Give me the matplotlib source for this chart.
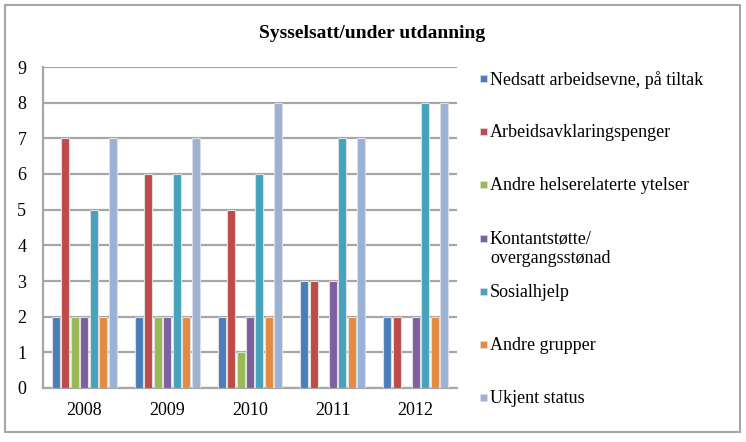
import matplotlib
matplotlib.use("Agg")
import matplotlib.pyplot as plt
import numpy as np
from matplotlib.patches import Rectangle

years = ["2008", "2009", "2010", "2011", "2012"]
series_names = [
    "Nedsatt arbeidsevne, på tiltak",
    "Arbeidsavklaringspenger",
    "Andre helserelaterte ytelser",
    "Kontantstøtte/\novergangsstønad",
    "Sosialhjelp",
    "Andre grupper",
    "Ukjent status",
]
nedsatt = [2, 2, 2, 3, 2]
aap = [7, 6, 5, 3, 2]
helse = [2, 2, 1, 0, 0]
kontant = [2, 2, 2, 3, 2]
sosial = [5, 6, 6, 7, 8]
andre = [2, 2, 2, 2, 2]
ukjent = [7, 7, 8, 7, 8]
values = [nedsatt, aap, helse, kontant, sosial, andre, ukjent]
colors = ["#4a7ebb", "#be4b48", "#98b954", "#7d60a0", "#46a3bd", "#e58b41", "#9bb1d6"]

plt.rcParams['font.family'] = ['Liberation Serif', 'DejaVu Serif']

W, H = 746, 442
fig = plt.figure(figsize=(W / 100, H / 100), dpi=100)

# outer border
fig.patches.append(Rectangle((5 / W, 1 - 432 / H), 735 / W, 427 / H, transform=fig.transFigure,
                             fill=False, edgecolor="#a6a6a6", linewidth=1.5))

ax = fig.add_axes([43 / W, 1 - 388 / H, (457 - 43) / W, (388 - 67) / H])
x = np.arange(len(years))
n = len(values)
slot = 0.8 / n
for i, (vals, c) in enumerate(zip(values, colors)):
    ax.bar(x - 0.4 + slot * (i + 0.5), vals, width=slot * 0.84, color=c,
           edgecolor="#dedede", linewidth=0.8, zorder=3)

ax.set_xlim(-0.5, len(years) - 0.5)
ax.set_ylim(0, 9)
ax.set_yticks(range(10))
ax.set_xticks(x)
ax.set_xticklabels(years)
ax.tick_params(axis='both', length=0, labelsize=13)
ax.tick_params(axis='y', pad=12)
ax.tick_params(axis='x', pad=10)
ax.yaxis.grid(True, color="#a6a6a6", linewidth=1.6, zorder=0)
ax.set_axisbelow(True)
for s in ["top", "right"]:
    ax.spines[s].set_visible(False)
ax.spines["left"].set_color("#a6a6a6")
ax.spines["bottom"].set_color("#a6a6a6")
ax.spines["left"].set_linewidth(1.6)
ax.spines["bottom"].set_linewidth(1.6)

fig.text(372 / W, 1 - 33 / H, "Sysselsatt/under utdanning", ha="center", va="center",
         fontsize=14, fontweight="bold")

# legend
leg_y0 = 80
leg_dy = 53.2
for i, (name, c) in enumerate(zip(series_names, colors)):
    yy = leg_y0 + i * leg_dy
    fig.patches.append(Rectangle((480 / W, 1 - (yy + 2) / H), 7 / W, 7 / H,
                                 transform=fig.transFigure, facecolor=c, edgecolor="#dedede",
                                 linewidth=0.5))
    fig.text(490 / W, 1 - (yy - 9) / H, name, ha="left", va="top", fontsize=13,
             linespacing=1.15)

fig.savefig("out.png", dpi=100)
